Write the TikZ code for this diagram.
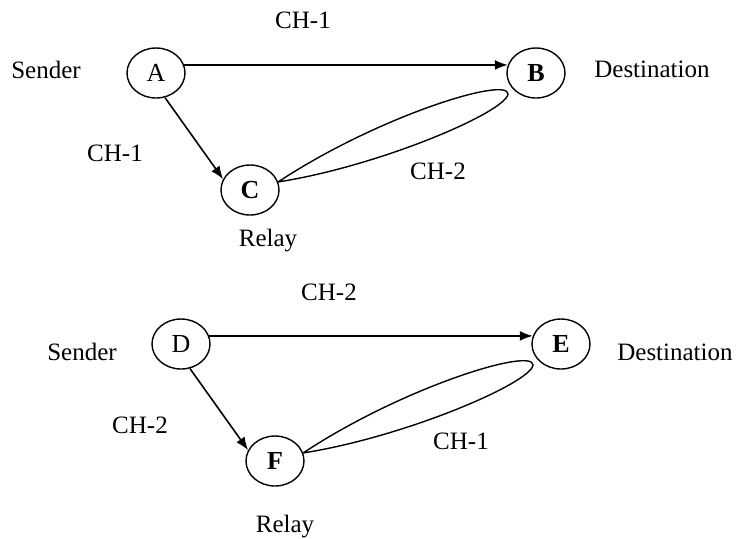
\documentclass[tikz,border=0pt]{standalone}
\usepackage{fontspec}
\setmainfont{Liberation Serif}
\usetikzlibrary{arrows.meta,shapes.geometric}
\begin{document}
\begin{tikzpicture}[x=0.5pt,y=-0.5pt,
  station/.style={ellipse,draw,line width=0.7pt,minimum width=29pt,minimum height=25pt,
    inner sep=0pt,font=\fontsize{13}{15}\selectfont},
  lbl/.style={font=\fontsize{12.5}{14}\selectfont,inner sep=0pt},
  link/.style={line width=0.8pt,-{Latex[length=6.5pt,width=5pt]}},
  ring/.style={line width=0.7pt}]
\useasboundingbox (0,0) rectangle (736,538);

% --- first scheme: relay C on CH-2 ---
\node[station] (A) at (156,73) {A};
\node[station] (B) at (536,73) {\bfseries B};
\node[station] (C) at (250,190) {\bfseries C};
\coordinate (tipB) at (508,94);

\draw[link] (A.16) -- (B.164);
\draw[link] (A.-70) -- (C.158);
\draw[ring] (C.16) .. controls (378,116) and (508,76) .. (tipB)
                   .. controls (506,112) and (380,166) .. (C.16);

\node[lbl] (s1) at (46,70) {Sender};
\node[lbl] (d1) at (652,69) {Destination};
\node[lbl] (t1) at (303,20) {CH-1};
\node[lbl] (l1) at (115,153) {CH-1};
\node[lbl] (r1) at (438,171) {CH-2};
\node[lbl] (y1) at (268,241) {Relay};

% --- second scheme: relay F on CH-1 ---
\node[station] (D) at (181,344) {D};
\node[station] (E) at (561,344) {\bfseries E};
\node[station] (F) at (275,461) {\bfseries F};
\coordinate (tipE) at (533,365);

\draw[link] (D.16) -- (E.164);
\draw[link] (D.-70) -- (F.158);
\draw[ring] (F.16) .. controls (403,387) and (533,347) .. (tipE)
                   .. controls (531,383) and (405,437) .. (F.16);

\node[lbl] (s2) at (82,352) {Sender};
\node[lbl] (d2) at (675,352) {Destination};
\node[lbl] (t2) at (329,292) {CH-2};
\node[lbl] (l2) at (140,425) {CH-2};
\node[lbl] (r2) at (461,441) {CH-1};
\node[lbl] (y2) at (285,527) {Relay};
\end{tikzpicture}
\end{document}
